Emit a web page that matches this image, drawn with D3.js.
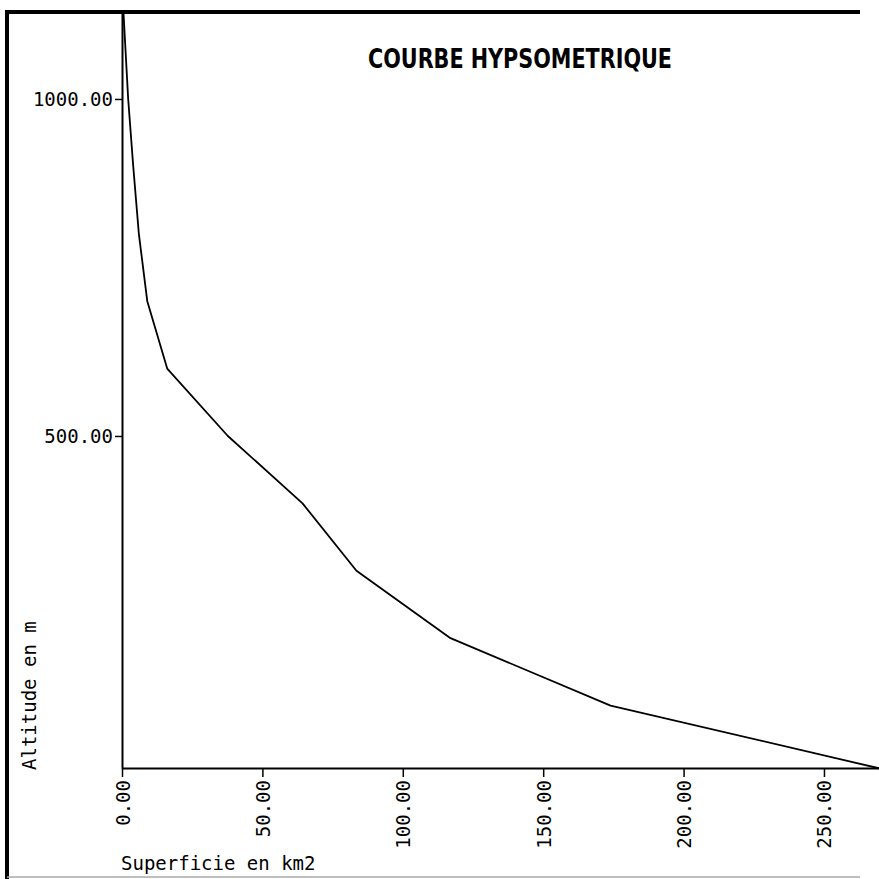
<!DOCTYPE html>
<html>
<head>
<meta charset="utf-8">
<script src="https://cdn.jsdelivr.net/npm/d3@7"></script>
<style>
  html, body { margin: 0; background: #fff; overflow: hidden; }
  svg { display: block; }
  text { font-family: "DejaVu Sans Mono", "Liberation Mono", monospace; font-feature-settings: "zero"; }
</style>
</head>
<body>
<div id="chart"></div>
<script>
// hypsometric curve: cumulated area (km2) vs altitude (m)
const superficie = [0.5, 2.2, 4.0, 6.0, 9.0, 16.1, 37.7, 64.3, 83.5, 117.0, 174.0, 269.6];
const altitude = [1130, 1000, 900, 800, 700, 600, 500, 400, 300, 200, 100, 7];
const xTicks = [0, 50, 100, 150, 200, 250];
const yTicks = [500, 1000];

const width = 879, height = 879;

let svg = d3.select('#chart')
  .append("svg")
  .attr("width", width)
  .attr("height", height);

// frame (left and top edges, plus faint bottom edge of the sheet)
svg.append("line")
  .attr("x1", 7).attr("x2", 7).attr("y1", 10).attr("y2", 879)
  .attr("stroke", "#000").attr("stroke-width", 4);
svg.append("line")
  .attr("x1", 5).attr("x2", 860).attr("y1", 12).attr("y2", 12)
  .attr("stroke", "#000").attr("stroke-width", 4);
svg.append("line")
  .attr("x1", 7).attr("x2", 860).attr("y1", 877).attr("y2", 877)
  .attr("stroke", "#aaa").attr("stroke-width", 1.5);

let x = d3.scaleLinear()
  .domain([0, 269.6])
  .range([122, 879]);

let y = d3.scaleLinear()
  .domain([7.4, 1132])
  .range([768, 10]);

// axes
let yAxis = svg.append("g")
  .attr("transform", "translate(" + x(0) + ",0)")
  .call(d3.axisLeft(y).tickValues(yTicks).tickSize(7).tickSizeOuter(0).tickPadding(2).tickFormat(d3.format(".2f")));

let xAxis = svg.append("g")
  .attr("transform", "translate(0," + y.range()[0] + ")")
  .call(d3.axisBottom(x).tickValues(xTicks).tickSize(9).tickSizeOuter(0).tickFormat(d3.format(".2f")));

svg.selectAll(".domain").attr("stroke", "#000").attr("stroke-width", 2);
svg.selectAll(".tick line").attr("stroke", "#000").attr("stroke-width", 1.5);

yAxis.selectAll("text")
  .attr("fill", "#000")
  .style("font-size", "19px");

xAxis.selectAll("text")
  .attr("fill", "#000")
  .style("font-size", "19px")
  .attr("text-anchor", "end")
  .attr("dominant-baseline", "central")
  .attr("dy", null)
  .attr("y", 0)
  .attr("transform", "translate(0,12) rotate(-90)");

// curve
svg.append("path")
  .datum(d3.range(altitude.length))
  .attr("fill", "none")
  .attr("stroke", "#000")
  .attr("stroke-width", 1.8)
  .attr("stroke-linejoin", "round")
  .attr("d", d3.line()
    .x(function (i) { return x(superficie[i]) })
    .y(function (i) { return y(altitude[i]) })
  );

// titles
svg.append("text")
  .attr("x", 368)
  .attr("y", 68)
  .attr("textLength", 304)
  .attr("lengthAdjust", "spacingAndGlyphs")
  .style("font-family", "'DejaVu Sans Condensed', 'DejaVu Sans', sans-serif")
  .style("font-weight", "bold")
  .style("font-size", "27px")
  .text("COURBE HYPSOMETRIQUE");

svg.append("text")
  .attr("x", 121)
  .attr("y", 870)
  .style("font-size", "19px")
  .text("Superficie en km2");

svg.append("text")
  .attr("transform", "translate(36,770) rotate(-90)")
  .style("font-size", "19px")
  .text("Altitude en m");
</script>
</body>
</html>
